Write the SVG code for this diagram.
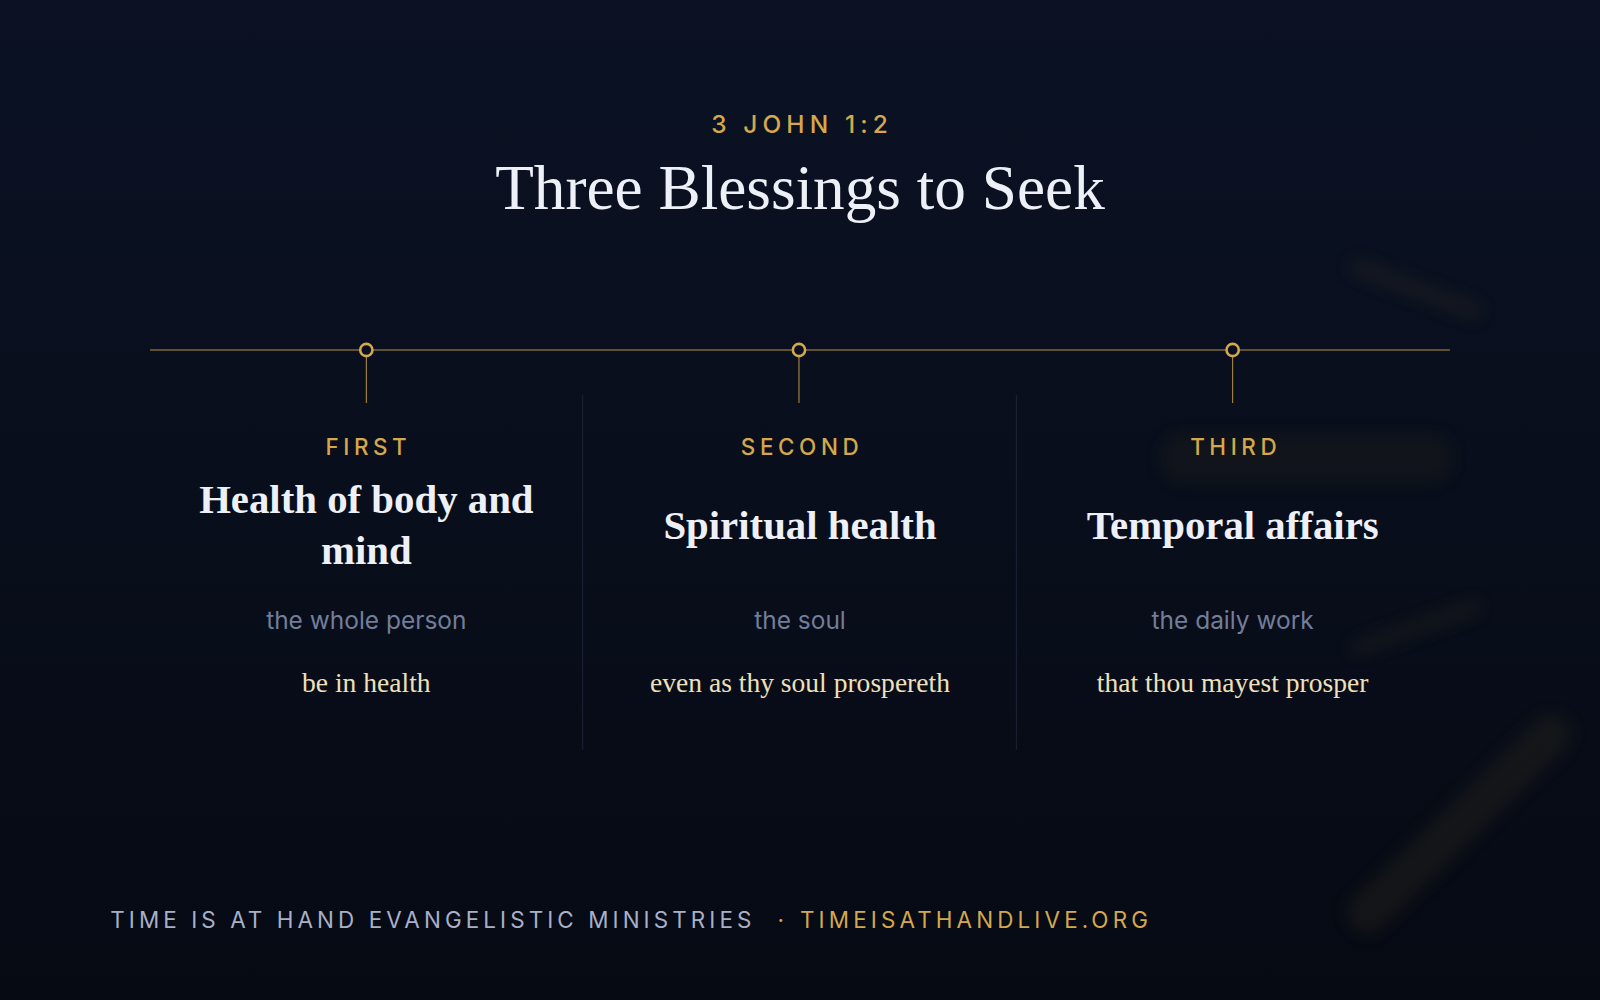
<svg xmlns="http://www.w3.org/2000/svg" width="1600" height="1000" viewBox="0 0 1600 1000">
<defs>
<linearGradient id="bg" x1="0" y1="0" x2="0" y2="1"><stop offset="0" stop-color="#0b1224"/><stop offset="1" stop-color="#060a13"/></linearGradient>
<filter id="blur" x="-50%" y="-50%" width="200%" height="200%"><feGaussianBlur stdDeviation="8"/></filter>
<style>
.kick{font-family:Inter,"Liberation Sans",sans-serif;font-size:22px;letter-spacing:4.5px;fill:#d4a84b;text-anchor:middle;font-weight:500}
.head{font-family:"Liberation Serif",serif;font-size:40px;fill:#eef0f8;text-anchor:middle;font-weight:600}
.sub{font-family:Inter,"Liberation Sans",sans-serif;font-size:24px;fill:#737d99;text-anchor:middle}
.quote{font-family:"Liberation Serif",serif;font-size:27px;fill:#efe0b8;text-anchor:middle}
.foot{font-family:Inter,"Liberation Sans",sans-serif;font-size:22px;letter-spacing:4px}
.tl{stroke:#b8913f;stroke-width:1}
.dot{fill:#0a1020;stroke:#d4a84b;stroke-width:2.5}
.div{stroke:#1c2436;stroke-width:1}
</style>
</defs>
<rect width="1600" height="1000" fill="url(#bg)"/>
<g transform="scale(1.020408)">
<g filter="url(#blur)" opacity="0.25" stroke="#3a3420" stroke-linecap="round" fill="none">
<line x1="1330" y1="262" x2="1445" y2="305" stroke-width="16"/>
<line x1="1330" y1="635" x2="1445" y2="595" stroke-width="14"/>
<line x1="1340" y1="895" x2="1520" y2="720" stroke-width="40"/>
<rect x="1138" y="425" width="285" height="48" rx="20" fill="#2a2718" stroke="none"/>
</g>
<text x="786" y="130" font-family="Inter,'Liberation Sans',sans-serif" font-size="24" letter-spacing="5" fill="#d4a84b" text-anchor="middle" font-weight="500">3 JOHN 1:2</text>
<text x="784" y="205" font-family="'Liberation Serif',serif" font-size="62" fill="#eef0f8" text-anchor="middle">Three Blessings to Seek</text>
<g id="connectors">
<line class="tl" x1="147" y1="343" x2="1421" y2="343"/>
<line class="tl" x1="359" y1="349" x2="359" y2="395"/>
<line class="tl" x1="783" y1="349" x2="783" y2="395"/>
<line class="tl" x1="1208" y1="349" x2="1208" y2="395"/>
<line class="div" x1="571" y1="387" x2="571" y2="735"/>
<line class="div" x1="996" y1="387" x2="996" y2="735"/>
</g>
<g id="node1">
<circle class="dot" cx="359" cy="343" r="6"/>
<text class="kick" x="361" y="446">FIRST</text>
<text class="head" x="359" y="503">Health of body and</text>
<text class="head" x="359" y="553">mind</text>
<text class="sub" x="359" y="616">the whole person</text>
<text class="quote" x="359" y="678">be in health</text>
</g>
<g id="node2">
<circle class="dot" cx="783" cy="343" r="6"/>
<text class="kick" x="786" y="446">SECOND</text>
<text class="head" x="784" y="528">Spiritual health</text>
<text class="sub" x="784" y="616">the soul</text>
<text class="quote" x="784" y="678">even as thy soul prospereth</text>
</g>
<g id="node3">
<circle class="dot" cx="1208" cy="343" r="6"/>
<text class="kick" x="1211" y="446">THIRD</text>
<text class="head" x="1208" y="528">Temporal affairs</text>
<text class="sub" x="1208" y="616">the daily work</text>
<text class="quote" x="1208" y="678">that thou mayest prosper</text>
</g>
<text class="foot" x="108" y="909" fill="#a8b0c8">TIME IS AT HAND EVANGELISTIC MINISTRIES</text>
<text class="foot" x="762" y="909" fill="#d4a84b">·</text>
<text class="foot" x="784" y="909" fill="#d4a84b" textLength="345">TIMEISATHANDLIVE.ORG</text>
</g>
</svg>
